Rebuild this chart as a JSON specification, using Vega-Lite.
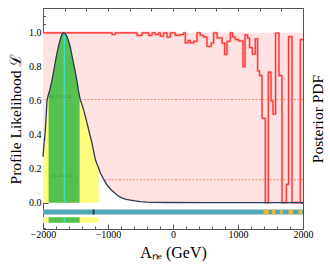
{
  "$schema": "https://vega.github.io/schema/vega-lite/v6.json",
  "width": 260,
  "height": 221,
  "autosize": {"type": "none"},
  "padding": {"left": 43, "top": 8, "right": 27, "bottom": 35},
  "background": "white",
  "config": {
    "view": {"stroke": "#555555", "strokeWidth": 1},
    "font": "Liberation Serif"
  },
  "datasets": {
    "curve": [
      {"a": -2000, "L": 0.27}, {"a": -1985, "L": 0.34}, {"a": -1965, "L": 0.42}, {"a": -1950, "L": 0.52},
      {"a": -1938, "L": 0.6}, {"a": -1925, "L": 0.625}, {"a": -1914, "L": 0.64}, {"a": -1898, "L": 0.66},
      {"a": -1888, "L": 0.677}, {"a": -1862, "L": 0.72}, {"a": -1837, "L": 0.772}, {"a": -1810, "L": 0.83},
      {"a": -1785, "L": 0.88}, {"a": -1760, "L": 0.925}, {"a": -1734, "L": 0.962}, {"a": -1710, "L": 0.99},
      {"a": -1690, "L": 1.0}, {"a": -1672, "L": 0.997}, {"a": -1650, "L": 0.99}, {"a": -1631, "L": 0.978},
      {"a": -1605, "L": 0.95}, {"a": -1580, "L": 0.915}, {"a": -1555, "L": 0.868}, {"a": -1529, "L": 0.818},
      {"a": -1503, "L": 0.77}, {"a": -1477, "L": 0.715}, {"a": -1457, "L": 0.665}, {"a": -1437, "L": 0.625},
      {"a": -1426, "L": 0.605}, {"a": -1400, "L": 0.576}, {"a": -1375, "L": 0.546}, {"a": -1350, "L": 0.51},
      {"a": -1323, "L": 0.468}, {"a": -1285, "L": 0.41}, {"a": -1246, "L": 0.35}, {"a": -1220, "L": 0.3},
      {"a": -1195, "L": 0.255}, {"a": -1170, "L": 0.228}, {"a": -1145, "L": 0.205}, {"a": -1118, "L": 0.175},
      {"a": -1070, "L": 0.14}, {"a": -1015, "L": 0.104}, {"a": -950, "L": 0.075}, {"a": -900, "L": 0.058},
      {"a": -862, "L": 0.045}, {"a": -800, "L": 0.03}, {"a": -720, "L": 0.02}, {"a": -657, "L": 0.015},
      {"a": -580, "L": 0.01}, {"a": -503, "L": 0.006}, {"a": -400, "L": 0.003}, {"a": -300, "L": 0.002},
      {"a": -100, "L": 0.001}, {"a": 500, "L": 0}, {"a": 2000, "L": 0}
    ],
    "post": [
      {"a": -2000, "p": 1.0}, {"a": -938, "p": 0.99}, {"a": -888, "p": 1.0}, {"a": -554, "p": 0.985},
      {"a": -477, "p": 1.0}, {"a": -375, "p": 0.985}, {"a": -323, "p": 1.0}, {"a": -272, "p": 0.99},
      {"a": -222, "p": 1.0}, {"a": -195, "p": 0.98}, {"a": -145, "p": 1.0}, {"a": -92, "p": 0.975},
      {"a": -42, "p": 1.0}, {"a": 35, "p": 0.985}, {"a": 112, "p": 0.99}, {"a": 163, "p": 1.0},
      {"a": 189, "p": 0.94}, {"a": 231, "p": 0.955}, {"a": 266, "p": 0.94}, {"a": 317, "p": 0.95},
      {"a": 369, "p": 1.0}, {"a": 420, "p": 0.985}, {"a": 471, "p": 0.975}, {"a": 523, "p": 0.92},
      {"a": 589, "p": 0.94}, {"a": 625, "p": 1.0}, {"a": 677, "p": 0.97}, {"a": 754, "p": 0.94},
      {"a": 794, "p": 0.872}, {"a": 831, "p": 0.95}, {"a": 882, "p": 1.0}, {"a": 917, "p": 0.975},
      {"a": 958, "p": 0.96}, {"a": 1009, "p": 0.952}, {"a": 1077, "p": 0.8}, {"a": 1108, "p": 0.988},
      {"a": 1148, "p": 0.969}, {"a": 1178, "p": 0.913}, {"a": 1220, "p": 0.874}, {"a": 1266, "p": 0.965},
      {"a": 1302, "p": 0.776}, {"a": 1332, "p": 0.748}, {"a": 1369, "p": 0.497}, {"a": 1420, "p": 0},
      {"a": 1466, "p": 0.768}, {"a": 1508, "p": 0.599}, {"a": 1538, "p": 0.521}, {"a": 1578, "p": 0.998},
      {"a": 1631, "p": 0.748}, {"a": 1677, "p": 0}, {"a": 1743, "p": 0.108}, {"a": 1778, "p": 0.978},
      {"a": 1831, "p": 0}, {"a": 1958, "p": 0.96}, {"a": 2000, "p": 0.96}
    ],
    "orange": [
      {"s": 1394, "e": 1471}, {"s": 1523, "e": 1574}, {"s": 1651, "e": 1686}, {"s": 1778, "e": 1846}, {"s": 1932, "e": 1985}
    ]
  },
  "resolve": {"axis": {"x": "independent", "y": "independent"}},
  "layer": [
    {
      "data": {"name": "curve"},
      "mark": {"type": "area", "color": "#ffe2e2"},
      "encoding": {
        "x": {"field": "a", "type": "quantitative",
          "scale": {"domain": [-2000, 2000], "nice": false, "zero": false},
          "axis": {
            "orient": "bottom",
            "values": [-2000, -1800, -1600, -1400, -1200, -1000, -800, -600, -400, -200, 0, 200, 400, 600, 800, 1000, 1200, 1400, 1600, 1800, 2000],
            "labelExpr": "datum.value % 1000 === 0 ? format(datum.value, 'd') : ''",
            "labelFlush": false,
            "tickSize": {"condition": {"test": "datum.value % 1000 === 0", "value": -5}, "value": -3},
            "tickColor": "#555555", "domain": false, "grid": false,
            "labelPadding": 5, "labelFont": "Liberation Serif", "labelFontSize": 10, "labelColor": "black",
            "title": "Aₙₑ (GeV)", "titleFont": "Liberation Serif", "titleFontSize": 16, "titleFontWeight": "normal", "titleColor": "black", "titlePadding": 5
          }},
        "y": {"field": "L", "type": "quantitative",
          "scale": {"domain": [-0.155, 1.146], "nice": false, "zero": false},
          "axis": {
            "orient": "left",
            "values": [-0.15, -0.1, -0.05, 0, 0.05, 0.1, 0.15, 0.2, 0.25, 0.3, 0.35, 0.4, 0.45, 0.5, 0.55, 0.6, 0.65, 0.7, 0.75, 0.8, 0.85, 0.9, 0.95, 1.0, 1.05, 1.1],
            "labelExpr": "(abs(datum.value*5 - round(datum.value*5)) < 0.001 && datum.value > -0.01 && datum.value < 1.01) ? format(datum.value, '.1f') : ''",
            "labelFlush": false,
            "tickSize": {"condition": {"test": "abs(datum.value*5 - round(datum.value*5)) < 0.001", "value": -5}, "value": -2.5},
            "tickColor": "#555555", "domain": false, "grid": false,
            "labelPadding": 7, "labelFont": "Liberation Serif", "labelFontSize": 10, "labelColor": "black",
            "title": "Profile Likelihood ℒ", "titleFont": "Liberation Serif", "titleFontSize": 15.5, "titleFontWeight": "normal", "titleColor": "black", "titlePadding": 5
          }},
        "y2": {"datum": 1}
      }
    },
    {
      "data": {"values": [{}]},
      "mark": {"type": "rule", "color": "#f07a55", "strokeWidth": 0.8, "strokeDash": [2, 1.5]},
      "encoding": {"y": {"datum": 0.607, "axis": null}}
    },
    {
      "data": {"values": [{}]},
      "mark": {"type": "rule", "color": "#f07a55", "strokeWidth": 0.8, "strokeDash": [2, 1.5]},
      "encoding": {"y": {"datum": 0.135, "axis": null}}
    },
    {
      "data": {"name": "curve"},
      "mark": {"type": "area", "color": "white"},
      "encoding": {
        "x": {"field": "a", "type": "quantitative", "axis": null},
        "y": {"field": "L", "type": "quantitative", "axis": null},
        "y2": {"datum": 0}
      }
    },
    {
      "data": {"name": "post"},
      "mark": {"type": "line", "interpolate": "step-after", "color": "#ff9a9a", "strokeWidth": 2.2},
      "encoding": {
        "x": {"field": "a", "type": "quantitative", "axis": null},
        "y": {"field": "p", "type": "quantitative", "axis": null}
      }
    },
    {
      "data": {"name": "post"},
      "mark": {"type": "line", "interpolate": "step-after", "color": "#ff2a2a", "strokeWidth": 1},
      "encoding": {
        "x": {"field": "a", "type": "quantitative",
          "axis": {
            "orient": "top",
            "values": [-2000, -1666.7, -1333.3, -1000, -666.7, -333.3, 0, 333.3, 666.7, 1000, 1333.3, 1666.7, 2000],
            "labels": false, "tickSize": -3, "tickColor": "#555555", "domain": false, "grid": false, "title": null
          }},
        "y": {"field": "p", "type": "quantitative",
          "axis": {
            "orient": "right",
            "values": [0, 0.0667, 0.1333, 0.2, 0.2667, 0.3333, 0.4, 0.4667, 0.5333, 0.6, 0.6667, 0.7333, 0.8, 0.8667, 0.9333, 1.0],
            "labels": false, "tickSize": -3, "tickColor": "#555555", "domain": false, "grid": false,
            "title": "Posterior PDF", "titleAngle": 270, "titleBaseline": "bottom", "titleFont": "Liberation Serif", "titleFontSize": 15.5, "titleFontWeight": "normal", "titleColor": "black", "titlePadding": 22
          }}
      }
    },
    {
      "data": {"name": "curve"},
      "transform": [{"filter": "datum.a <= -1145"}],
      "mark": {"type": "area", "color": "#fdfd7e"},
      "encoding": {
        "x": {"field": "a", "type": "quantitative", "axis": null},
        "y": {"field": "L", "type": "quantitative", "axis": null},
        "y2": {"datum": 0}
      }
    },
    {
      "data": {"name": "curve"},
      "transform": [{"filter": "datum.a >= -1914 && datum.a <= -1437"}],
      "mark": {"type": "area", "color": "#56c150"},
      "encoding": {
        "x": {"field": "a", "type": "quantitative", "axis": null},
        "y": {"field": "L", "type": "quantitative", "axis": null},
        "y2": {"datum": 0}
      }
    },
    {
      "data": {"values": [{}]},
      "mark": {"type": "rule", "color": "#3de0c8", "strokeWidth": 1.5},
      "encoding": {
        "x": {"datum": -1672, "axis": null},
        "y": {"datum": 0, "axis": null},
        "y2": {"datum": 0.997}
      }
    },
    {
      "data": {"name": "curve"},
      "mark": {"type": "line", "color": "#2b3a55", "strokeWidth": 1.3},
      "encoding": {
        "x": {"field": "a", "type": "quantitative", "axis": null},
        "y": {"field": "L", "type": "quantitative", "axis": null}
      }
    },
    {
      "data": {"values": [{}]},
      "mark": {"type": "text", "text": "68.3% C.L.", "fontSize": 5, "color": "#3f9a3f", "font": "Liberation Serif", "align": "center", "baseline": "middle"},
      "encoding": {"x": {"datum": -1726, "axis": null}, "y": {"datum": 0.63, "axis": null}}
    },
    {
      "data": {"values": [{}]},
      "mark": {"type": "text", "text": "95.4% C.L.", "fontSize": 5, "color": "#3f9a3f", "font": "Liberation Serif", "align": "center", "baseline": "middle"},
      "encoding": {"x": {"datum": -1695, "axis": null}, "y": {"datum": 0.163, "axis": null}}
    },
    {
      "data": {"values": [{}]},
      "mark": {"type": "rect", "color": "#52a9b3"},
      "encoding": {
        "x": {"datum": -2000, "axis": null}, "x2": {"datum": 2000},
        "y": {"datum": -0.04, "axis": null}, "y2": {"datum": -0.07}
      }
    },
    {
      "data": {"name": "orange"},
      "mark": {"type": "rect", "color": "#f7b733"},
      "encoding": {
        "x": {"field": "s", "type": "quantitative", "axis": null}, "x2": {"field": "e"},
        "y": {"datum": -0.04, "axis": null}, "y2": {"datum": -0.07}
      }
    },
    {
      "data": {"values": [{}]},
      "mark": {"type": "rule", "color": "#27475a", "strokeWidth": 2},
      "encoding": {
        "x": {"datum": -1222, "axis": null},
        "y": {"datum": -0.04, "axis": null}, "y2": {"datum": -0.07}
      }
    },
    {
      "data": {"values": [{}]},
      "mark": {"type": "rect", "color": "#fdfd7e"},
      "encoding": {
        "x": {"datum": -2000, "axis": null}, "x2": {"datum": -1145},
        "y": {"datum": -0.086, "axis": null}, "y2": {"datum": -0.118}
      }
    },
    {
      "data": {"values": [{}]},
      "mark": {"type": "rect", "color": "#56c150"},
      "encoding": {
        "x": {"datum": -1914, "axis": null}, "x2": {"datum": -1437},
        "y": {"datum": -0.086, "axis": null}, "y2": {"datum": -0.118}
      }
    },
    {
      "data": {"values": [{}]},
      "mark": {"type": "rule", "color": "#3de0c8", "strokeWidth": 1.5},
      "encoding": {
        "x": {"datum": -1672, "axis": null},
        "y": {"datum": -0.086, "axis": null}, "y2": {"datum": -0.118}
      }
    }
  ]
}
